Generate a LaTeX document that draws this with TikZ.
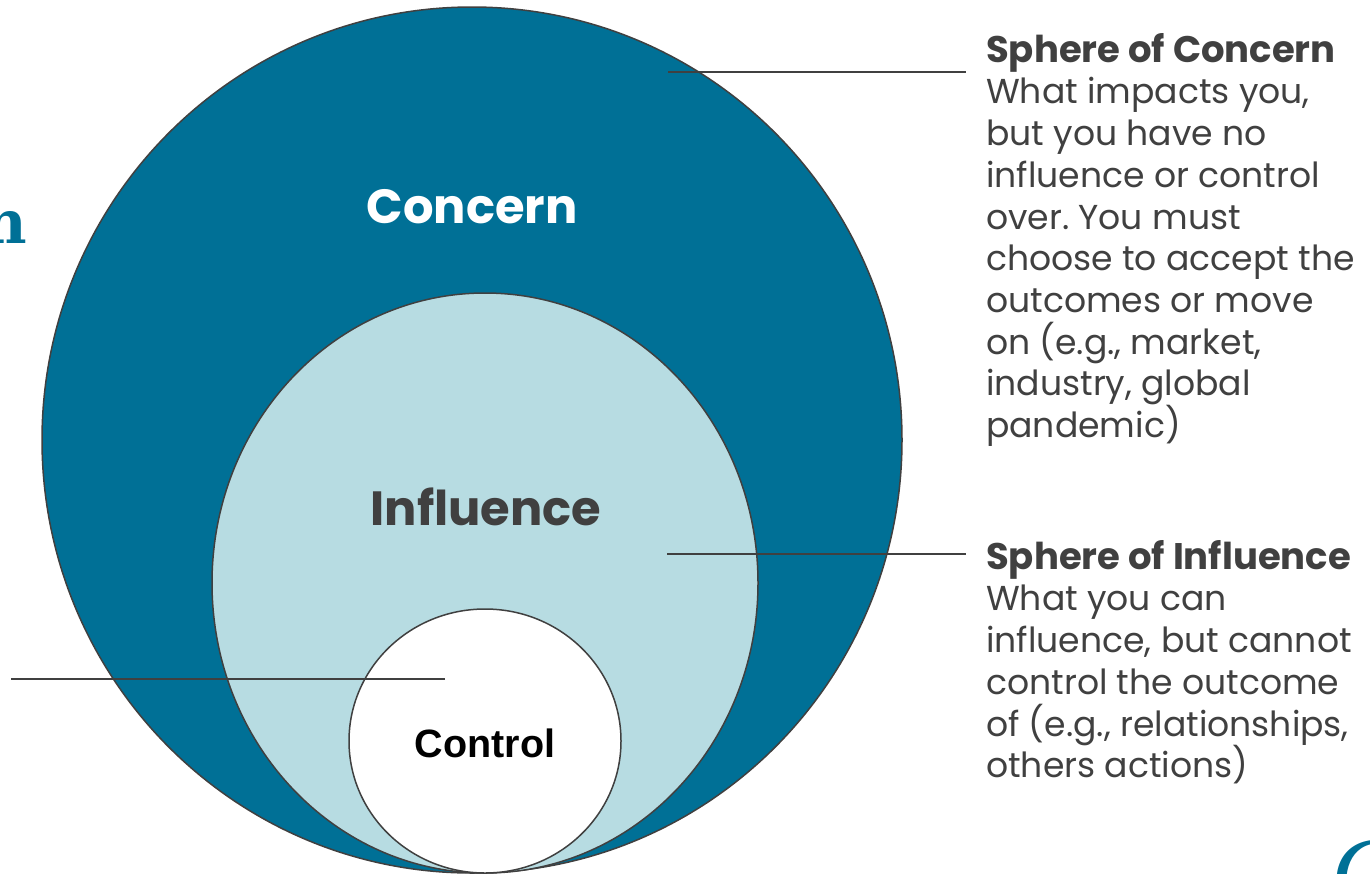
\documentclass[tikz,border=0pt]{standalone}
\usepackage{fontspec}
\setmainfont{Poppins}
\newfontfamily\controlfont{Liberation Sans}
\newfontfamily\slabfont{DejaVu Serif}
\newfontfamily\cursivefont{Liberation Serif}
\definecolor{concernblue}{HTML}{007096}
\definecolor{influencefill}{HTML}{B7DCE2}
\definecolor{inkgrey}{HTML}{404040}
\newcommand{\sidehead}[1]{{\fontsize{37}{41.7}\selectfont\bfseries #1}}
\tikzset{
  ring/.style={draw=inkgrey, line width=1.5pt},
  leader/.style={draw=inkgrey, line width=1.8pt},
  ringlabel/.style={font=\bfseries\fontsize{48}{48}\selectfont, inner sep=0pt},
  sidetext/.style={anchor=north west, align=left, inner sep=0pt, text=inkgrey,
    font=\frenchspacing\fontsize{34.6}{41.7}\selectfont},
}
\begin{document}
\begin{tikzpicture}[x=1pt,y=-1pt]
\useasboundingbox (0,0) rectangle (1370,873);
\fill[white] (0,0) rectangle (1370,873);

% nested spheres, all resting on the bottom edge
\draw[ring, fill=concernblue] (472,440) ellipse [x radius=430, y radius=433];
\draw[ring, fill=influencefill] (485,583) ellipse [x radius=273, y radius=290];
\draw[ring, fill=white] (485,741) ellipse [x radius=136, y radius=132];

% sphere labels
\node[ringlabel, text=white] (concern) at (472,207) {Concern};
\node[ringlabel, text=inkgrey] (influence) at (486,507) {Influence};
\node[inner sep=0pt, text=black, font=\controlfont\bfseries\fontsize{39.5}{39.5}\selectfont] (control) at (485,743) {Control};

% leader lines
\coordinate (concernIn) at (668,72);
\coordinate (concernOut) at (966,72);
\coordinate (influenceIn) at (667,554);
\coordinate (influenceOut) at (966,554);
\coordinate (controlIn) at (445,679);
\coordinate (controlOut) at (11,679);
\draw[leader] (concernIn) -- (concernOut);
\draw[leader] (influenceIn) -- (influenceOut);
\draw[leader] (controlIn) -- (controlOut);

% descriptions
\node[sidetext] (concernText) at (986,33) {\sidehead{Sphere of Concern}\\
What impacts you,\\
but you have no\\
influence or control\\
over. You must\\
choose to accept the\\
outcomes or move\\
on (e.g., market,\\
industry, global\\
pandemic)};
\node[sidetext] (influenceText) at (986,540) {\sidehead{Sphere of Influence}\\
What you can\\
influence, but cannot\\
control the outcome\\
of (e.g., relationships,\\
others actions)};

% lettering running off the page edges
\node[anchor=base east, inner sep=0pt, text=concernblue, font=\slabfont\bfseries\fontsize{60}{60}\selectfont] (edgeN) at (27,243) {n};
\node[anchor=base west, inner sep=0pt, text=concernblue, font=\cursivefont\itshape\fontsize{100}{100}\selectfont] (edgeC) at (1331,906) {C};
\end{tikzpicture}
\end{document}
